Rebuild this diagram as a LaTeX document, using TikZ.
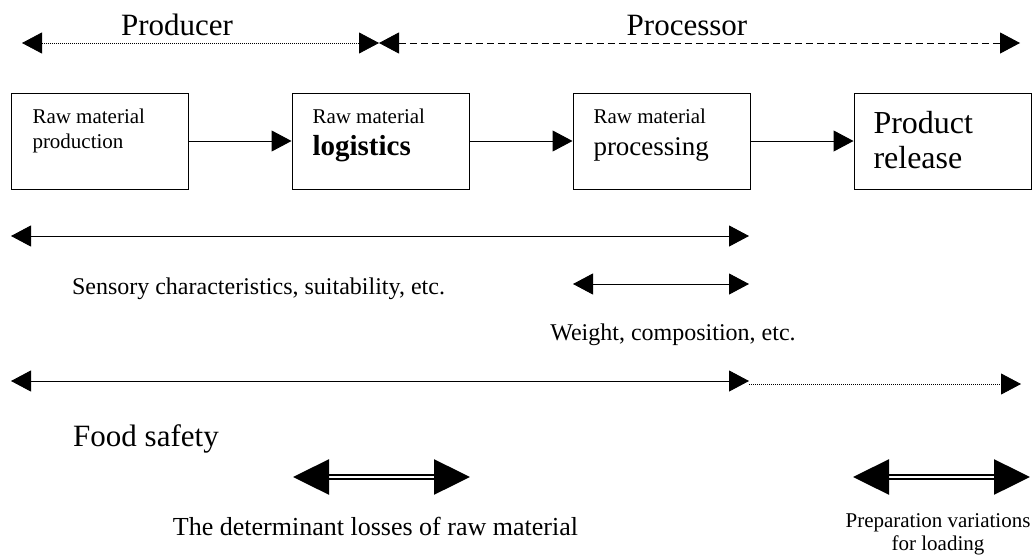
\documentclass[tikz,border=0pt]{standalone}
\usepackage{fontspec}
\setmainfont{Liberation Serif}
\usetikzlibrary{shapes,positioning,arrows,arrows.meta,calc}

\begin{document}
\begin{tikzpicture}[x=1pt,y=-1pt]

    \tikzstyle{obj}=[draw, rectangle, line width=1pt, minimum height=96pt, minimum width=177pt, inner sep=0pt];
    \tikzstyle{boxtext}=[inner sep=0pt, anchor=base west, font=\fontsize{21}{25}\selectfont];
    \tikzstyle{bigtext}=[inner sep=0pt, anchor=base, font=\fontsize{31}{36}\selectfont];
    \tikzstyle{midtext}=[inner sep=0pt, anchor=base, font=\fontsize{24}{28}\selectfont];
    \tikzstyle{fat}=[line width=2.5pt, double=white, double distance=1.5pt, >={Triangle[length=36pt,width=35pt]}];

    \useasboundingbox (0,0) rectangle (1033,557);

    \begin{scope}[>={Triangle[length=20pt,width=21pt]}, line width=1pt]
      \node (rawProduction) at (99.5,141) [obj]{};
      \node (rawLogistics) [right=103pt of rawProduction, obj]{};
      \node (rawProcessing) [right=103pt of rawLogistics, obj]{};
      \node (productRelease) [right=103pt of rawProcessing, obj]{};

      \node (productionText) at (32,123) [boxtext]{Raw material};
      \node (productionText2) at (32,148) [boxtext]{production};
      \node (logisticsText) at (312,123) [boxtext]{Raw material};
      \node (logisticsText2) at (312,155) [boxtext, font=\fontsize{29}{34}\selectfont\bfseries]{logistics};
      \node (processingText) at (593,123) [boxtext]{Raw material};
      \node (processingText2) at (593,155) [boxtext, font=\fontsize{27}{32}\selectfont]{processing};
      \node (releaseText) at (873,133) [boxtext, font=\fontsize{32}{38}\selectfont]{Product};
      \node (releaseText2) at (873,168) [boxtext, font=\fontsize{32}{38}\selectfont]{release};

      \draw [->] (rawProduction) -- (rawLogistics);
      \draw [->] (rawLogistics) -- (rawProcessing);
      \draw [->] (rawProcessing) -- (productRelease);

      % who is in charge
      \coordinate (producerStart) at (22,43);
      \coordinate (roleBorder) at (379,43);
      \coordinate (processorEnd) at (1020,43);
      \node (producer) at (177,35) [bigtext]{Producer};
      \node (processor) at (687,35) [bigtext]{Processor};
      \draw [<->, line width=0.8pt, dash pattern=on 1pt off 1pt] (producerStart) -- (roleBorder);
      \draw [<->, dash pattern=on 7pt off 4pt] (roleBorder) -- (processorEnd);

      % quality ranges
      \coordinate (sensoryStart) at (11,236);
      \coordinate (sensoryEnd) at (749,236);
      \coordinate (weightStart) at (573,284);
      \coordinate (weightEnd) at (749,284);
      \coordinate (safetyStart) at (11,381);
      \coordinate (safetyEnd) at (749,381);
      \coordinate (loadingStart) at (749,384);
      \coordinate (loadingEnd) at (1021,384);

      \draw [<->] (sensoryStart) -- (sensoryEnd);
      \node (sensory) at (258.5,294) [midtext]{Sensory characteristics, suitability, etc.};
      \draw [<->] (weightStart) -- (weightEnd);
      \node (weight) at (673,340) [midtext]{Weight, composition, etc.};
      \draw [<->] (safetyStart) -- (safetyEnd);
      \draw [->, line width=0.8pt, dash pattern=on 1pt off 1pt] (loadingStart) -- (loadingEnd);
      \node (safety) at (146,446) [bigtext]{Food safety};

      % losses
      \coordinate (lossStart) at (293,477);
      \coordinate (lossEnd) at (470,477);
      \coordinate (prepStart) at (853,477);
      \coordinate (prepEnd) at (1030,477);
      \draw [fat, <->] (lossStart) -- (lossEnd);
      \draw [fat, <->] (prepStart) -- (prepEnd);
      \node (losses) at (375.5,535) [bigtext, font=\fontsize{26}{30}\selectfont]{The determinant losses of raw material};
      \node (preparation) at (938,527) [boxtext, anchor=base]{Preparation variations};
      \node (preparation2) at (938,550) [boxtext, anchor=base]{for loading};
    \end{scope}
\end{tikzpicture}
\end{document}
